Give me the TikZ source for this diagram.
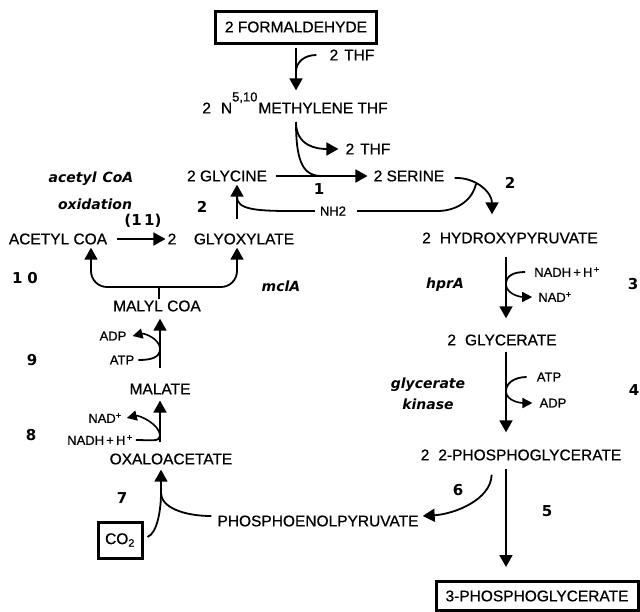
\documentclass[tikz,border=0pt]{standalone}
\usepackage{fontspec}
\setmainfont{Liberation Sans}
\newfontfamily\labfam{Liberation Sans}[FakeBold=0.7]
\newfontfamily\dejavu{DejaVu Sans}
\usetikzlibrary{arrows.meta}
\newcommand\metfont{\labfam\fontsize{15.5}{17}\selectfont}
\newcommand\coffont{\labfam\fontsize{13}{15}\selectfont}
\newcommand\enzfont{\dejavu\bfseries\itshape\fontsize{14}{16}\selectfont}
\newcommand\numfont{\dejavu\bfseries\fontsize{15}{17}\selectfont}

\begin{document}
\begin{tikzpicture}[x=1pt,y=-1pt,
  met/.style={font=\metfont,inner sep=1pt},
  cof/.style={font=\coffont,inner sep=1pt},
  enz/.style={font=\enzfont,inner sep=1pt},
  num/.style={font=\numfont,inner sep=1pt},
  framed/.style={draw,line width=3pt,font=\metfont,inner sep=0pt},
  link/.style={line width=1.8pt},
  rxn/.style={line width=1.8pt,-{Triangle[length=12pt,width=13pt]}},
  side/.style={line width=1.6pt,-{Triangle[length=10pt,width=10pt]}}]
\useasboundingbox (0,0) rectangle (640,611);

\node[framed,minimum width=161pt,minimum height=32pt] (form) at (296,27) {2 FORMALDEHYDE};
\node[met] (thfa) at (352,55) {2\hspace{6pt}THF};
\node[met] (meth) at (295,108) {2\hspace{10pt}N\smash{\raisebox{12pt}{\coffont 5,10}}\hspace{1pt}METHYLENE THF};
\node[met] (thfb) at (368,149) {2\hspace{6pt}THF};
\coordinate (j1) at (296,72);
\coordinate (m0) at (296,122);
\coordinate (j2) at (322,176);
\draw[rxn,shorten <=3pt,shorten >=11pt] (form.south) -- (form.south |- meth.north);
\draw[link] ([xshift=-12pt]thfa.west) .. controls +(-12,0) and +(0,-10) .. (j1);
\draw[rxn] (m0) .. controls +(0,24) and +(-22,0) .. ([xshift=-6pt]thfb.west);
\draw[link] (m0) .. controls +(0,42) and +(-18,0) .. (j2);

\node[met] (gly) at (227,176) {2 GLYCINE};
\node[met] (ser) at (409,176) {2 SERINE};
\draw[rxn,shorten <=8pt,shorten >=5pt] (gly.east) -- (ser.west);
\node[num] (s1) at (319,189) {1};
\node[num] (s2b) at (510,183) {2};

\node[met] (hyd) at (510,238) {2\hspace{9pt}HYDROXYPYRUVATE};
\draw[rxn] ([xshift=9pt,yshift=-2pt]ser.east) .. controls +(21,-1) and +(0,-22) .. ([xshift=-18pt,yshift=17pt]hyd.north);
\node[cof] (nh2) at (333,211) {NH2};
\coordinate (j4) at (476,184);
\coordinate (j5) at (237,197);
\draw[link] ([xshift=10pt]nh2.east) -- ++(80,0) .. controls +(22,0) and +(-3,14) .. (j4);
\draw[link] ([xshift=-4pt]nh2.west) -- ++(-25,0) .. controls +(-35,0) and +(0,12) .. (j5);

\node[enz] (acox1) at (91,179) {acetyl\hspace{6pt}CoA};
\node[enz] (acox2) at (95,204) {oxidation};
\node[num] (s2a) at (202,207) {2};
\node[met] (acc) at (58,239) {ACETYL COA};
\node[met] (g2) at (172,239) {2};
\node[met] (glyox) at (244,239) {GLYOXYLATE};
\node[num] (s11) at (143,221) {(1\,1)};
\coordinate (gx) at (237,219);
\draw[rxn,shorten >=2pt] (gx) -- (gx |- gly.south);
\draw[rxn,shorten <=9pt,shorten >=1pt] (acc.east) -- (g2.west);

\node[met] (malyl) at (157,306) {MALYL COA};
\node[enz] (mcl) at (281,286) {mclA};
\node[num] (s10) at (25,278) {1\hspace{5pt}0};
\coordinate (brk) at (159,287);
\draw[rxn,rounded corners=16pt] (brk) -| ([xshift=33pt,yshift=-2pt]acc.south);
\draw[rxn,rounded corners=16pt] (brk) -| ([yshift=-2pt]gx |- glyox.south);
\draw[link] (brk |- malyl.north) -- (brk);

\node[met] (malate) at (160,389) {MALATE};
\node[cof] (atp9) at (122,360) {ATP};
\node[cof] (adp9) at (113,336) {ADP};
\node[num] (s9) at (32,360) {9};
\coordinate (c9) at (160,349);
\draw[rxn,shorten <=14pt,shorten >=6pt] (malate.north) -- (malate.north |- malyl.south);
\draw[link] ([xshift=3pt]atp9.east) .. controls +(14,0) and +(0,8) .. (c9);
\draw[side] (c9) .. controls +(0,-10) and +(12,-3) .. ([xshift=5pt]adp9.east);

\node[met] (oxa) at (171,459) {OXALOACETATE};
\node[cof] (nad8) at (105,418) {NAD\textsuperscript{+}};
\node[cof] (nadh8) at (100,440) {NADH\,+\,H\textsuperscript{\,+}};
\node[num] (s8) at (31,435) {8};
\coordinate (c8) at (160,436);
\draw[rxn,shorten <=10pt,shorten >=5pt] (oxa.north -| c8) -- (malate.south -| c8);
\draw[link] ([xshift=2pt]nadh8.east) .. controls +(14,0) and +(0,6) .. (c8);
\draw[side] (c8) .. controls +(0,-12) and +(12,-3) .. ([xshift=4pt]nad8.east);

\node[framed,minimum width=44pt,minimum height=36pt] (co2) at (120,540) {CO\textsubscript{2}};
\node[met] (pep) at (318,521) {PHOSPHOENOLPYRUVATE};
\node[num] (s7) at (122,498) {7};
\coordinate (c7) at (161,493);
\draw[rxn,shorten >=4pt] (c7) -- (c7 |- oxa.south);
\draw[link] ([xshift=4pt,yshift=3pt]co2.east) .. controls +(10,-4) and +(0,16) .. (c7);
\draw[link] ([xshift=-5pt,yshift=5pt]pep.west) .. controls +(-28,0) and +(0,14) .. (c7);

\node[met] (glyc) at (502,340) {2\hspace{9pt}GLYCERATE};
\node[cof] (nadh3) at (567,272) {NADH\,+\,H\textsuperscript{\,+}};
\node[cof] (nad3) at (555,297) {NAD\textsuperscript{+}};
\node[enz] (hpr) at (445,285) {hprA};
\node[num] (s3) at (633,284) {3};
\coordinate (c3) at (506,284);
\draw[rxn,shorten <=12pt,shorten >=15pt] (hyd.south -| c3) -- (glyc.north -| c3);
\draw[link] ([xshift=-8pt]nadh3.west) .. controls +(-12,0) and +(0,-8) .. (c3);
\draw[side] (c3) .. controls +(0,10) and +(-12,0) .. ([xshift=-5pt]nad3.west);

\node[met] (pg2) at (521,455) {2\hspace{9pt}2-PHOSPHOGLYCERATE};
\node[cof] (atp4) at (549,377) {ATP};
\node[cof] (adp4) at (553,403) {ADP};
\node[enz] (gk1) at (428,385) {glycerate};
\node[enz] (gk2) at (428,404) {kinase};
\node[num] (s4) at (634,390) {4};
\coordinate (c4) at (506,391);
\draw[rxn,shorten <=5pt,shorten >=16pt] (glyc.south -| c4) -- (pg2.north -| c4);
\draw[link] ([xshift=-9pt]atp4.west) .. controls +(-12,0) and +(0,-8) .. (c4);
\draw[side] (c4) .. controls +(0,10) and +(-12,0) .. ([xshift=-6pt]adp4.west);

\node[framed,minimum width=202pt,minimum height=29pt] (pg3) at (537,596) {3-PHOSPHOGLYCERATE};
\node[num] (s6) at (458,490) {6};
\node[num] (s5) at (547,511) {5};
\draw[rxn,shorten <=7pt,shorten >=13pt] (pg2.south -| c4) -- (pg3.north -| c4);
\draw[rxn,shorten <=13pt] ([xshift=-29pt]pg2.south) .. controls +(-1,38) and +(32,-2) .. ([xshift=3pt,yshift=5pt]pep.east);
\end{tikzpicture}
\end{document}
